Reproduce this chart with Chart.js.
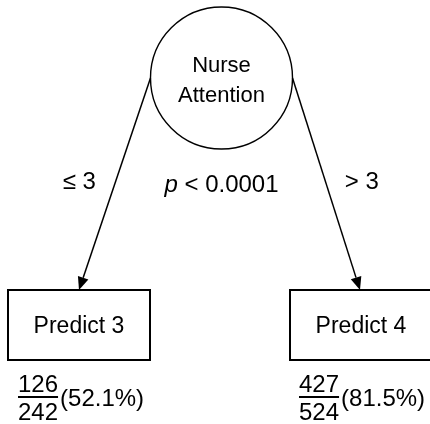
<!DOCTYPE html>
<html>
<head>
<meta charset="utf-8">
<script src="https://cdn.jsdelivr.net/npm/chart.js@4.4.0/dist/chart.umd.min.js"></script>
<style>
  html, body { margin: 0; padding: 0; background: #fff; }
</style>
</head>
<body>
<canvas id="tree" width="430" height="424"></canvas>
<script>
// tree nodes (centre of each node, in the chart's own x/y units)
const nodeNames = ["Nurse\nAttention", "Predict 3", "Predict 4"];
const nodeKinds = ["split", "leaf", "leaf"];
const nodeX = [221.5, 79, 361];
const nodeY = [78, 325, 325];

// edges parent -> child
const edgeFrom = [0, 0];
const edgeTo = [1, 2];
const edgeLabels = ["≤ 3", "> 3"];
const splitStat = "p < 0.0001";

// leaf accuracy
const leafCorrect = [126, 427];
const leafTotal = [242, 524];
const leafPercent = ["52.1", "81.5"];

const FONT = "'Liberation Sans', Arial, sans-serif";
const R = 71;          // split circle radius
const BOX_W = 142, BOX_H = 70;

const treePlugin = {
  id: "treePlugin",
  afterDatasetsDraw(chart) {
    const ctx = chart.ctx;
    const xs = chart.scales.x, ys = chart.scales.y;
    const px = (v) => xs.getPixelForValue(v);
    const py = (v) => ys.getPixelForValue(v);
    ctx.save();
    ctx.strokeStyle = "#000";
    ctx.fillStyle = "#000";
    ctx.textBaseline = "alphabetic";

    // nodes
    nodeNames.forEach((name, i) => {
      const cx = px(nodeX[i]), cy = py(nodeY[i]);
      ctx.textAlign = "center";
      if (nodeKinds[i] === "split") {
        ctx.lineWidth = 1.4;
        ctx.beginPath();
        ctx.arc(cx, cy, R, 0, Math.PI * 2);
        ctx.stroke();
        ctx.font = "22px " + FONT;
        const lines = name.split("\n");
        ctx.fillText(lines[0], cx, cy - 6);
        ctx.fillText(lines[1], cx, cy + 24);
        // split statistic, italic p
        ctx.textAlign = "left";
        const rest = splitStat.slice(1);
        ctx.font = "italic 24px " + FONT;
        const wp = ctx.measureText("p").width;
        ctx.font = "24px " + FONT;
        const wr = ctx.measureText(rest).width;
        const sx = cx - (wp + wr) / 2;
        ctx.font = "italic 24px " + FONT;
        ctx.fillText("p", sx, 192);
        ctx.font = "24px " + FONT;
        ctx.fillText(rest, sx + wp, 192);
      } else {
        ctx.lineWidth = 2;
        ctx.strokeRect(cx - BOX_W / 2, cy - BOX_H / 2, BOX_W, BOX_H);
        ctx.font = "23px " + FONT;
        ctx.fillText(name, cx, cy + 8);
      }
    });

    // edges with arrowheads
    edgeFrom.forEach((f, k) => {
      const t = edgeTo[k];
      const dir = nodeX[t] < nodeX[f] ? -1 : 1;
      const x0 = px(nodeX[f]) + dir * R, y0 = py(nodeY[f]);
      const x1 = px(nodeX[t]) - (dir > 0 ? 1 : 0), y1 = py(nodeY[t]) - BOX_H / 2;
      const ang = Math.atan2(y1 - y0, x1 - x0);
      const L = 13, W = 5.5;
      ctx.lineWidth = 1.5;
      ctx.beginPath();
      ctx.moveTo(x0, y0);
      ctx.lineTo(x1 - Math.cos(ang) * L, y1 - Math.sin(ang) * L);
      ctx.stroke();
      ctx.beginPath();
      ctx.moveTo(x1, y1);
      ctx.lineTo(x1 - Math.cos(ang) * L - Math.sin(ang) * W, y1 - Math.sin(ang) * L + Math.cos(ang) * W);
      ctx.lineTo(x1 - Math.cos(ang) * L + Math.sin(ang) * W, y1 - Math.sin(ang) * L - Math.cos(ang) * W);
      ctx.closePath();
      ctx.fill();
      // edge label
      ctx.font = "24px " + FONT;
      ctx.textAlign = "center";
      const lx = (x0 + x1) / 2 + dir * 35.5;
      ctx.fillText(edgeLabels[k], lx, 189);
    });

    // leaf accuracy fractions
    leafCorrect.forEach((c, k) => {
      const t = edgeTo[k];
      const left = px(nodeX[t]) - BOX_W / 2 + 10 + (k === 1 ? -1 : 0);
      ctx.font = "24px " + FONT;
      ctx.textAlign = "center";
      const num = String(c), den = String(leafTotal[k]);
      const w = Math.max(ctx.measureText(num).width, ctx.measureText(den).width);
      const mid = left + w / 2;
      ctx.fillText(num, mid, 392);
      ctx.fillText(den, mid, 420);
      ctx.lineWidth = 2;
      ctx.beginPath();
      ctx.moveTo(left, 397);
      ctx.lineTo(left + w, 397);
      ctx.stroke();
      ctx.textAlign = "left";
      ctx.fillText("(" + leafPercent[k] + "%)", left + w + 2, 406);
    });
    ctx.restore();
  }
};

new Chart(document.getElementById("tree"), {
  type: "scatter",
  data: {
    datasets: [
      {
        label: "nodes",
        data: nodeX.map((x, i) => ({ x: x, y: nodeY[i] })),
        pointRadius: 0,
      },
    ],
  },
  options: {
    responsive: false,
    animation: false,
    layout: { padding: 0 },
    plugins: { legend: { display: false }, tooltip: { enabled: false } },
    scales: {
      x: { type: "linear", min: 0, max: 430, display: false },
      y: { type: "linear", min: 0, max: 424, reverse: true, display: false },
    },
  },
  plugins: [treePlugin],
});
</script>
</body>
</html>
